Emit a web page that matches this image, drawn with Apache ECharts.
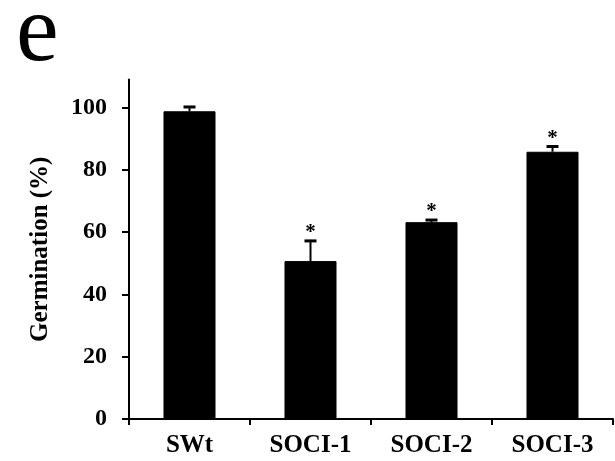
<!DOCTYPE html>
<html><head><meta charset="utf-8">
<script src="https://cdn.jsdelivr.net/npm/echarts@6/dist/echarts.min.js"></script>
<style>html,body{margin:0;padding:0;background:#fff}#c{width:615px;height:461px}</style>
</head><body><div id="c"></div>
<script>
const categories = ['SWt', 'SOCI-1', 'SOCI-2', 'SOCI-3'];
const germination = [98.8, 50.7, 63.2, 85.8];
const errors = [1.7, 6.8, 1.0, 2.0];
const marks = ['', '*', '*', '*'];
const yTicks = [0, 20, 40, 60, 80, 100];

const font = 'Liberation Serif';
const chart = echarts.init(document.getElementById('c'));
chart.setOption({
  animation: false,
  graphic: [{
    type: 'text', left: 16, top: -13,
    style: { text: 'e', font: '96px "Liberation Serif"', fill: '#000' }
  }],
  grid: { left: 129, right: 2, top: 79.5, bottom: 42 },
  xAxis: {
    type: 'category', data: categories,
    axisLine: { lineStyle: { color: '#000', width: 2 } },
    axisTick: { show: true, length: 6, lineStyle: { color: '#000', width: 2 } },
    axisLabel: { color: '#000', fontFamily: font, fontWeight: 'bold', fontSize: 25, margin: 14 }
  },
  yAxis: {
    type: 'value', min: 0, max: 109,
    name: 'Germination (%)', nameLocation: 'middle', nameGap: 76,
    nameTextStyle: { color: '#000', fontFamily: font, fontWeight: 'bold', fontSize: 25 },
    axisLine: { show: true, lineStyle: { color: '#000', width: 2 } },
    axisTick: { show: true, length: 7, customValues: yTicks, lineStyle: { color: '#000', width: 2 } },
    axisLabel: { customValues: yTicks, color: '#000', fontFamily: font, fontWeight: 'bold', fontSize: 24, margin: 22 },
    splitLine: { show: false }
  },
  series: [{
    type: 'bar', data: germination, barWidth: '43%',
    itemStyle: { color: '#000', borderColor: '#000', borderWidth: 1 }
  }, {
    type: 'custom',
    data: germination.map((v, i) => [i, v, errors[i]]),
    renderItem: function (params, api) {
      const i = api.value(0), v = api.value(1), e = api.value(2);
      const base = api.coord([i, v]);
      const top = api.coord([i, v + e]);
      const half = 6;
      const children = [
        { type: 'line', shape: { x1: base[0], y1: base[1], x2: top[0], y2: top[1] }, style: { stroke: '#000', lineWidth: 2 } },
        { type: 'line', shape: { x1: top[0] - half, y1: top[1] + 1, x2: top[0] + half, y2: top[1] + 1 }, style: { stroke: '#000', lineWidth: 3 } }
      ];
      if (marks[i]) {
        children.push({ type: 'text', x: top[0], y: top[1] - 7,
          style: { text: marks[i], font: 'bold 21px "Liberation Serif"', fill: '#000', align: 'center', verticalAlign: 'middle' } });
      }
      return { type: 'group', children: children };
    },
    z: 5
  }]
});
</script></body></html>
